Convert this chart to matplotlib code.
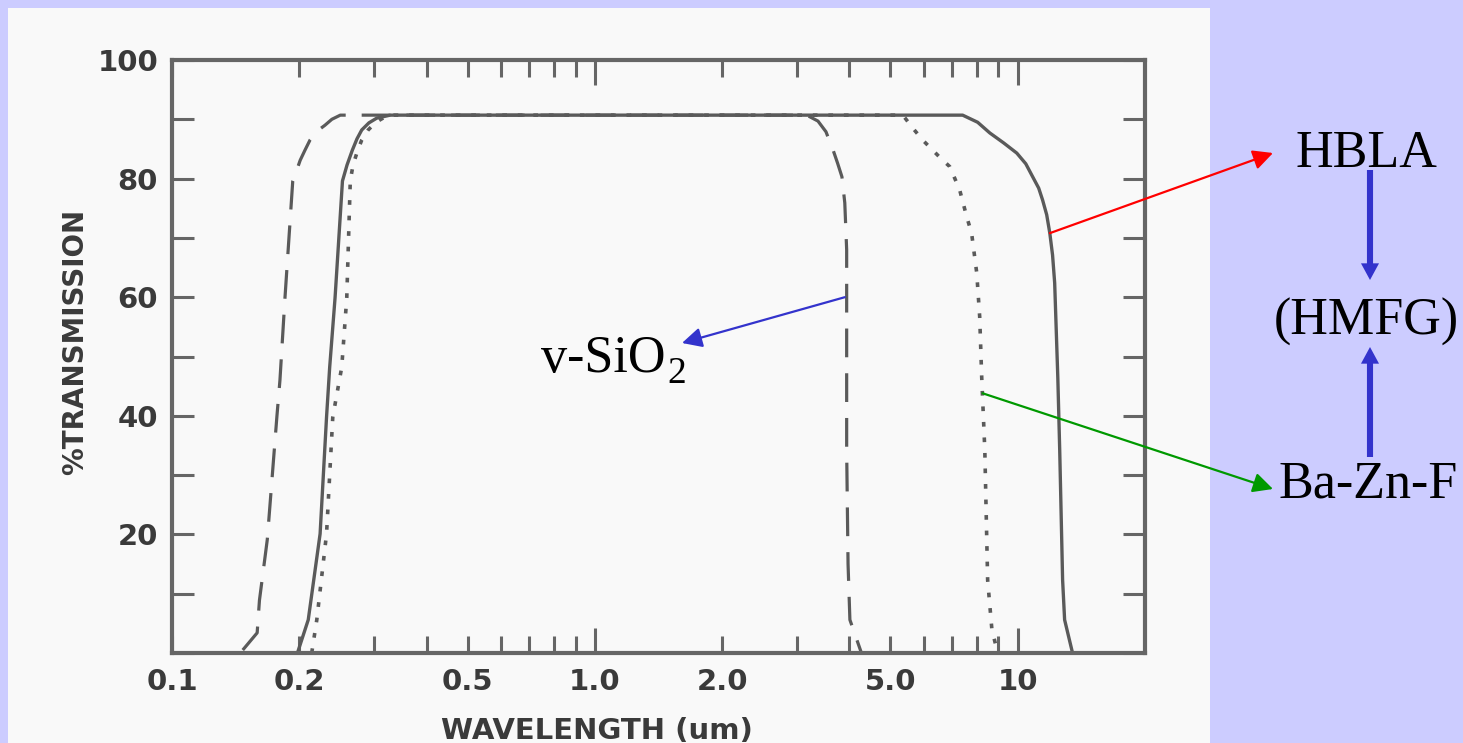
import matplotlib
matplotlib.use("Agg")
import matplotlib.pyplot as plt
from matplotlib.patches import Rectangle
from matplotlib.ticker import FixedLocator, FixedFormatter, NullFormatter

# ---------------- data ----------------
# v-SiO2 (dashed)
sio2_wl = [0.147, 0.159, 0.161, 0.168, 0.177, 0.180, 0.185, 0.193, 0.1974, 0.201,
           0.2063, 0.212, 0.2203, 0.230, 0.2388, 0.250,
           3.17, 3.37, 3.52, 3.66, 3.75, 3.84, 3.90, 3.94, 3.94, 3.97, 4.01, 4.27]
sio2_T = [0.5, 3.4, 8.9, 19.1, 39.8, 46.0, 59.9, 79.6, 81.5, 83.1,
          84.8, 86.5, 88.0, 89.0, 90.0, 90.7,
          90.7, 89.7, 87.9, 84.8, 82.6, 80.3, 75.9, 68.0, 34.2, 15.0, 5.6, 0.0]

# HBLA (solid)
hbla_wl = [0.198, 0.210, 0.224, 0.232, 0.236, 0.243, 0.253, 0.2594, 0.267, 0.2738,
           0.281, 0.2922, 0.305, 0.328,
           7.41, 8.04, 8.59, 9.27, 9.95, 10.45, 10.85, 11.21, 11.45, 11.71, 11.91,
           12.09, 12.23, 12.44, 12.57, 12.77, 12.91, 13.48]
hbla_T = [0.0, 5.6, 20.1, 39.8, 48.2, 59.9, 79.6, 82.3, 84.8, 86.7,
          88.2, 89.4, 90.2, 90.7,
          90.7, 89.5, 87.7, 86.0, 84.3, 82.5, 80.3, 78.4, 76.4, 73.9, 70.8,
          67.1, 62.4, 46.5, 34.2, 12.3, 5.6, 0.0]

# Ba-Zn-F (dotted)
bazn_wl = [0.214, 0.220, 0.232, 0.240, 0.252, 0.259, 0.264, 0.268, 0.275, 0.281,
           0.291, 0.3035, 0.319, 0.335,
           5.35, 5.65, 5.96, 6.54, 6.91, 7.29, 7.58, 7.78, 8.00, 8.13, 8.22, 8.36,
           8.49, 8.69, 8.97]
bazn_T = [0.0, 5.6, 20.1, 39.8, 48.2, 59.9, 79.6, 82.3, 84.8, 86.5,
          88.2, 89.5, 90.4, 90.7,
          90.7, 88.5, 86.5, 83.6, 82.0, 78.1, 73.5, 70.8, 64.1, 56.7, 46.5, 34.2,
          12.3, 3.9, 0.0]

x_label_ticks = [0.1, 0.2, 0.5, 2.0, 5.0]
x_label_text = ["0.1", "0.2", "0.5", "2.0", "5.0"]
x_minor_unlabeled = [0.3, 0.4, 0.6, 0.7, 0.8, 0.9, 3, 4, 6, 7, 8, 9]
x_major_ticks = [1.0, 10.0]
x_major_text = ["1.0", "10"]
y_major_ticks = [0, 20, 40, 60, 80, 100]
y_major_text = ["", "20", "40", "60", "80", "100"]
y_minor_ticks = [10, 30, 50, 70, 90]

# annotation anchors on the curves (data coords)
anchor_hbla = (11.91, 70.8)
anchor_sio2 = (3.90, 60.0)
anchor_bazn = (8.26, 43.8)

# ---------------- figure ----------------
W, H = 1463, 743
fig = plt.figure(figsize=(W / 100, H / 100), dpi=100)
fig.patch.set_facecolor("#ccccff")


def fx(px):
    return px / W


def fy(py):
    return 1 - py / H


# scanned page area
fig.add_artist(Rectangle((fx(8), 0), fx(1210) - fx(8), fy(8), transform=fig.transFigure,
                         facecolor="#f9f9f9", edgecolor="none", zorder=0))

ax = fig.add_axes([fx(172), fy(653), fx(1145) - fx(172), fy(60) - fy(653)])
ax.set_facecolor("none")
ax.set_xscale("log")
ax.set_xlim(0.1, 20)
ax.set_ylim(0, 100)

gray = "#5a5a5a"
ax.plot(hbla_wl, hbla_T, color=gray, lw=2.4, solid_capstyle="butt", solid_joinstyle="round")
ax.plot(sio2_wl, sio2_T, color=gray, lw=2.3, dashes=(9, 5))
ax.plot(bazn_wl, bazn_T, color=gray, lw=2.6, dashes=(1.3, 3.0))

for s in ax.spines.values():
    s.set_linewidth(3)
    s.set_color("#666666")

# x ticks
all_minor = sorted(x_label_ticks + x_minor_unlabeled)
minor_labels = [x_label_text[x_label_ticks.index(v)] if v in x_label_ticks else "" for v in all_minor]
ax.xaxis.set_major_locator(FixedLocator(x_major_ticks))
ax.xaxis.set_major_formatter(FixedFormatter(x_major_text))
ax.xaxis.set_minor_locator(FixedLocator(all_minor))
ax.xaxis.set_minor_formatter(FixedFormatter(minor_labels))

ax.yaxis.set_major_locator(FixedLocator(y_major_ticks))
ax.yaxis.set_major_formatter(FixedFormatter(y_major_text))
ax.yaxis.set_minor_locator(FixedLocator(y_minor_ticks))
ax.yaxis.set_minor_formatter(NullFormatter())

ax.tick_params(axis="both", which="both", direction="in", top=True, right=True,
               width=2.2, color="#666666", labelcolor="#3a3a3a", labelsize=21)
ax.tick_params(axis="x", which="major", length=18, pad=11)
ax.tick_params(axis="x", which="minor", length=12, pad=11)
ax.tick_params(axis="y", which="both", length=16, pad=10)
for lab in ax.get_xticklabels(which="both") + ax.get_yticklabels():
    lab.set_fontweight("bold")
    lab.set_family("DejaVu Sans")

# axis labels
fig.text(fx(597), fy(739), "WAVELENGTH (um)", ha="center", va="baseline",
         fontsize=21, fontweight="bold", color="#3a3a3a", family="DejaVu Sans")
fig.text(fx(83), fy(342), "%TRANSMISSION", ha="center", va="baseline", rotation=90,
         rotation_mode="anchor", fontsize=20, fontweight="bold", color="#3a3a3a",
         family="DejaVu Sans")

# labels on right
serif = "Liberation Serif"
fig.text(fx(1366), fy(167), "HBLA", ha="center", va="baseline", fontsize=37.5, family=serif)
fig.text(fx(1366), fy(335), "(HMFG)", ha="center", va="baseline", fontsize=37.5, family=serif)
fig.text(fx(1368), fy(498), "Ba-Zn-F", ha="center", va="baseline", fontsize=37.5, family=serif)
fig.text(fx(541), fy(372), "v-SiO", ha="left", va="baseline", fontsize=37.5, family=serif)
fig.text(fx(667), fy(383), "2", ha="left", va="baseline", fontsize=27, family=serif)

# thin arrows from curves to labels
thin = "-|>,head_length=0.6,head_width=0.3"
for anchor, tip, col in [(anchor_hbla, (1273, 153), "#ff0000"),
                         (anchor_sio2, (682, 343), "#3333cc"),
                         (anchor_bazn, (1273, 489), "#009900")]:
    ax.annotate("", xy=(tip[0], H - tip[1]), xycoords="figure pixels",
                xytext=anchor, textcoords="data",
                arrowprops=dict(arrowstyle=thin, color=col, lw=1.6, mutation_scale=20,
                                shrinkA=0, shrinkB=0), annotation_clip=False)

# thick blue arrows between labels
thick = "simple,head_length=0.6,head_width=0.65,tail_width=0.22"
for (x0, y0), (x1, y1) in [((1370, 170), (1370, 280)), ((1370, 457), (1370, 347))]:
    ax.annotate("", xy=(x1, H - y1), xycoords="figure pixels",
                xytext=(x0, H - y0), textcoords="figure pixels",
                arrowprops=dict(arrowstyle=thick, color="#3333cc", lw=0, mutation_scale=20,
                                shrinkA=0, shrinkB=0), annotation_clip=False)

fig.savefig("out.png", dpi=100, facecolor=fig.get_facecolor())
